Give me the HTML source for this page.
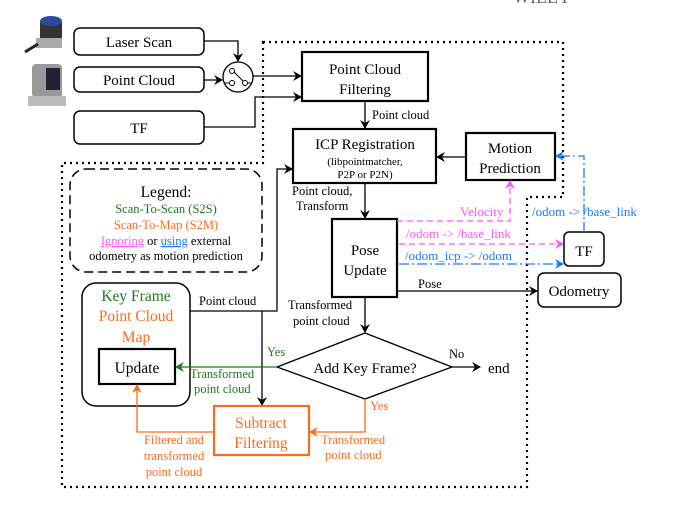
<!DOCTYPE html>
<html><head><meta charset="utf-8"><style>
html,body{margin:0;padding:0;background:#fff;}
svg{display:block;}
text{font-family:"Liberation Serif",serif;}
</style></head><body>
<svg width="673" height="507" viewBox="0 0 673 507" xmlns="http://www.w3.org/2000/svg">
<defs>
<marker id="ak" markerWidth="10" markerHeight="10" refX="8" refY="5" orient="auto" markerUnits="userSpaceOnUse"><path d="M0,0 L9,5 L0,10 L3,5 z" fill="#000"/></marker>
<marker id="ag" markerWidth="10" markerHeight="10" refX="8" refY="5" orient="auto" markerUnits="userSpaceOnUse"><path d="M0,0 L9,5 L0,10 L3,5 z" fill="#1a7a1a"/></marker>
<marker id="ao" markerWidth="10" markerHeight="10" refX="8" refY="5" orient="auto" markerUnits="userSpaceOnUse"><path d="M0,0 L9,5 L0,10 L3,5 z" fill="#ff6a1a"/></marker>
<marker id="am" markerWidth="10" markerHeight="10" refX="8" refY="5" orient="auto" markerUnits="userSpaceOnUse"><path d="M0,0 L9,5 L0,10 L3,5 z" fill="#ff55ff"/></marker>
<marker id="ab" markerWidth="10" markerHeight="10" refX="8" refY="5" orient="auto" markerUnits="userSpaceOnUse"><path d="M0,0 L9,5 L0,10 L3,5 z" fill="#1a7aff"/></marker>
</defs>

<text x="513" y="3" font-size="18" fill="#666">WILEY</text>

<path d="M263,42 L563,42 L563,197 L527,197 L527,487 L62,487 L62,163 L263,163 Z" fill="none" stroke="#000" stroke-width="2.2" stroke-dasharray="2,4"/>

<rect x="40" y="20" width="22" height="22" rx="3" fill="#333"/>
<ellipse cx="51" cy="21" rx="11" ry="5" fill="#2a4aa0"/>
<rect x="36" y="38" width="26" height="10" fill="#aaa"/>
<path d="M25,52 L38,44" stroke="#222" stroke-width="3"/>
<rect x="32" y="64" width="30" height="34" rx="4" fill="#999"/>
<rect x="46" y="68" width="14" height="22" fill="#223"/>
<rect x="28" y="96" width="38" height="10" fill="#bbb"/>

<g fill="#fff" stroke="#000" stroke-width="1.5">
<rect x="74" y="28" width="130" height="27" rx="6"/>
<rect x="74" y="67" width="130" height="25" rx="6"/>
<rect x="74" y="111" width="130" height="33" rx="6"/>
</g>
<g font-size="15" text-anchor="middle">
<text x="139" y="47">Laser Scan</text>
<text x="139" y="85">Point Cloud</text>
<text x="139" y="133">TF</text>
</g>

<circle cx="238" cy="77" r="15" fill="#fff" stroke="#000" stroke-width="1.3"/>
<circle cx="232" cy="71" r="2.5" fill="none" stroke="#000"/>
<circle cx="232" cy="83" r="2.5" fill="none" stroke="#000"/>
<circle cx="245" cy="83" r="2.5" fill="none" stroke="#000"/>
<path d="M234,72 L243,81 M224,83 L229,83 M248,83 L252,83" stroke="#000"/>

<g stroke="#000" stroke-width="1.3" fill="none">
<path d="M204,41 L238,41 L238,61" marker-end="url(#ak)"/>
<path d="M204,80 L222,80" marker-end="url(#ak)"/>
<path d="M253,76 L301,76" marker-end="url(#ak)"/>
<path d="M204,127 L255,127 L255,97 L301,97" marker-end="url(#ak)"/>
<path d="M365,101 L365,128" marker-end="url(#ak)"/>
<path d="M466,157 L437,157" marker-end="url(#ak)"/>
<path d="M365,183 L365,218" marker-end="url(#ak)"/>
<path d="M397,291 L537,291" marker-end="url(#ak)"/>
<path d="M365,297 L365,332" marker-end="url(#ak)"/>
<path d="M452,367 L480,367" marker-end="url(#ak)"/>
<path d="M190,311 L277,311 L277,169 L292,169" marker-end="url(#ak)"/>
<path d="M262,311 L262,405" marker-end="url(#ak)"/>
</g>

<g fill="#fff" stroke="#000" stroke-width="2.2">
<rect x="302" y="52" width="126" height="49"/>
<rect x="293" y="129" width="143" height="54"/>
<rect x="466" y="133" width="89" height="47"/>
<rect x="332" y="219" width="65" height="78"/>
</g>
<g fill="#fff" stroke="#000" stroke-width="1.5">
<rect x="564" y="232" width="40" height="34" rx="5"/>
<rect x="538" y="273" width="83" height="34" rx="6"/>
</g>

<g font-size="15" text-anchor="middle">
<text x="365" y="74">Point Cloud</text>
<text x="365" y="94">Filtering</text>
<text x="365" y="149">ICP Registration</text>
<text x="510" y="153">Motion</text>
<text x="510" y="173">Prediction</text>
<text x="365" y="255">Pose</text>
<text x="365" y="275">Update</text>
<text x="584" y="256">TF</text>
<text x="579" y="296">Odometry</text>
</g>
<g font-size="11" text-anchor="middle">
<text x="365" y="165">(libpointmatcher,</text>
<text x="365" y="178">P2P or P2N)</text>
</g>
<g font-size="12.5">
<text x="372" y="119">Point cloud</text>
<text x="292" y="195">Point cloud,</text>
<text x="296" y="210">Transform</text>
<text x="418" y="288">Pose</text>
<text x="288" y="309">Transformed</text>
<text x="293" y="325">point cloud</text>
<text x="199" y="305">Point cloud</text>
<text x="449" y="358">No</text>
</g>
<text x="488" y="373" font-size="15">end</text>

<g fill="none" stroke-width="1.3">
<path d="M397,221 L510,221 L510,181" stroke="#ff55ff" stroke-dasharray="6,4" marker-end="url(#am)"/>
<path d="M399,244 L563,244" stroke="#ff55ff" stroke-dasharray="6,4" marker-end="url(#am)"/>
<path d="M399,264 L563,264" stroke="#1a7aff" stroke-dasharray="10,3,2,3" marker-end="url(#ab)"/>
<path d="M584,232 L584,156 L556,156" stroke="#1a7aff" stroke-dasharray="10,3,2,3" marker-end="url(#ab)"/>
</g>
<g font-size="13">
<text x="460" y="216" fill="#ff55ff">Velocity</text>
<text x="406" y="238" fill="#ff55ff">/odom -&gt; /base_link</text>
<text x="405" y="260" fill="#1a7aff">/odom_icp -&gt; /odom</text>
<text x="532" y="216" fill="#1a7aff">/odom -&gt; /base_link</text>
</g>

<rect x="70" y="169" width="192" height="103" rx="16" fill="none" stroke="#000" stroke-width="1.5" stroke-dasharray="9,5"/>
<g text-anchor="middle">
<text x="166" y="197" font-size="15.5">Legend:</text>
<text x="166" y="213" font-size="12.5" fill="#1a7a1a">Scan-To-Scan (S2S)</text>
<text x="166" y="229" font-size="12.5" fill="#ff6a1a">Scan-To-Map (S2M)</text>
<text x="166" y="245" font-size="12.5"><tspan fill="#ff55ff" text-decoration="underline">Ignoring</tspan> or <tspan fill="#1a7aff" text-decoration="underline">using</tspan> external</text>
<text x="166" y="260" font-size="12.5">odometry as motion prediction</text>
</g>

<rect x="82" y="283" width="108" height="123" rx="14" fill="#fff" stroke="#000" stroke-width="1.5"/>
<rect x="99" y="349" width="76" height="35" fill="#fff" stroke="#000" stroke-width="2.2"/>
<g text-anchor="middle" font-size="15.5">
<text x="136" y="301" fill="#1a7a1a">Key Frame</text>
<text x="136" y="321" fill="#ff6a1a">Point Cloud</text>
<text x="136" y="342" fill="#ff6a1a">Map</text>
<text x="137" y="373">Update</text>
</g>

<path d="M277,367 L365,333 L452,367 L365,399 Z" fill="#fff" stroke="#000" stroke-width="1.3"/>
<text x="365" y="373" font-size="15" text-anchor="middle">Add Key Frame?</text>

<path d="M277,367 L176,367" stroke="#1a7a1a" stroke-width="1.3" fill="none" marker-end="url(#ag)"/>
<g font-size="12.5" fill="#1a7a1a">
<text x="267" y="356">Yes</text>
<text x="190" y="378">Transformed</text>
<text x="194" y="393">point cloud</text>
</g>

<rect x="214" y="406" width="95" height="49" fill="#fff" stroke="#ff6a1a" stroke-width="2.2"/>
<g text-anchor="middle" font-size="15.5" fill="#ff6a1a">
<text x="261" y="428">Subtract</text>
<text x="261" y="448">Filtering</text>
</g>
<g fill="none" stroke="#ff6a1a" stroke-width="1.3">
<path d="M365,399 L365,432 L310,432" marker-end="url(#ao)"/>
<path d="M214,432 L137,432 L137,385" marker-end="url(#ao)"/>
</g>
<g font-size="12.5" fill="#ff6a1a">
<text x="370" y="410">Yes</text>
<text x="321" y="444">Transformed</text>
<text x="325" y="459">point cloud</text>
<text text-anchor="middle" x="174" y="444">Filtered and</text>
<text text-anchor="middle" x="174" y="460">transformed</text>
<text text-anchor="middle" x="174" y="476">point cloud</text>
</g>
</svg>
</body></html>
